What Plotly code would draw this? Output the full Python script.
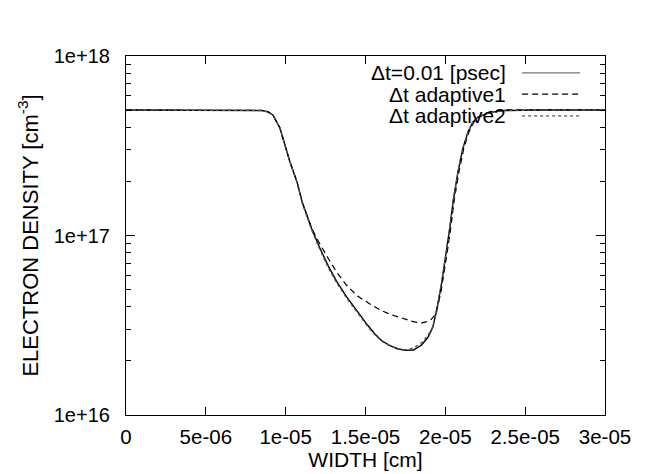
import plotly.graph_objects as go

# ---- data (x in cm, density in cm^-3) ----
x_solid = [0, 2e-06, 4e-06, 6e-06, 7.5e-06, 8.5e-06, 8.9e-06, 9.2e-06, 9.64e-06, 9.96e-06,
           1.027e-05, 1.071e-05, 1.105e-05, 1.163e-05, 1.204e-05, 1.267e-05, 1.319e-05,
           1.382e-05, 1.445e-05, 1.515e-05, 1.56e-05, 1.60e-05, 1.65e-05, 1.70e-05,
           1.75e-05, 1.80e-05, 1.85e-05, 1.89e-05, 1.922e-05, 1.946e-05, 1.977e-05,
           2.008e-05, 2.029e-05, 2.050e-05, 2.079e-05, 2.110e-05, 2.142e-05, 2.173e-05,
           2.204e-05, 2.28e-05, 2.37e-05, 2.6e-05, 3.0e-05]
y_solid = [5.0e17, 5.0e17, 5.0e17, 5.0e17, 5.0e17, 4.97e17, 4.88e17, 4.69e17, 3.97e17, 3.19e17,
           2.57e17, 1.99e17, 1.52e17, 1.09e17, 8.9e16, 6.75e16, 5.55e16,
           4.55e16, 3.80e16, 3.15e16, 2.82e16, 2.60e16, 2.44e16, 2.34e16,
           2.29e16, 2.30e16, 2.45e16, 2.70e16, 3.09e16, 3.85e16, 5.44e16,
           8.3e16, 1.12e17, 1.58e17, 2.26e17, 3.07e17, 3.77e17, 4.29e17,
           4.57e17, 4.85e17, 4.97e17, 5.0e17, 5.0e17]

x_adapt1 = [0, 2e-06, 4e-06, 6e-06, 7.5e-06, 8.5e-06, 8.9e-06, 9.2e-06, 9.64e-06, 9.96e-06,
            1.027e-05, 1.071e-05, 1.105e-05, 1.163e-05, 1.204e-05, 1.265e-05, 1.319e-05,
            1.38e-05, 1.45e-05, 1.528e-05, 1.60e-05, 1.65e-05, 1.716e-05, 1.78e-05,
            1.82e-05, 1.85e-05, 1.88e-05, 1.91e-05, 1.935e-05, 1.955e-05, 1.975e-05,
            1.99e-05, 2.014e-05, 2.035e-05, 2.056e-05, 2.085e-05, 2.116e-05, 2.148e-05,
            2.179e-05, 2.21e-05, 2.28e-05, 2.37e-05, 2.6e-05, 3.0e-05]
y_adapt1 = [5.0e17, 5.0e17, 5.0e17, 5.0e17, 5.0e17, 4.97e17, 4.88e17, 4.69e17, 3.97e17, 3.19e17,
            2.57e17, 1.99e17, 1.52e17, 1.10e17, 9.3e16, 7.5e16, 6.25e16,
            5.3e16, 4.6e16, 4.15e16, 3.82e16, 3.65e16, 3.48e16, 3.35e16,
            3.28e16, 3.26e16, 3.30e16, 3.40e16, 3.60e16, 4.1e16, 5.0e16,
            6.0e16, 8.3e16, 1.12e17, 1.58e17, 2.26e17, 3.07e17, 3.77e17,
            4.29e17, 4.57e17, 4.9e17, 5.02e17, 5.0e17, 5.0e17]

x_adapt2 = [0, 2e-06, 4e-06, 6e-06, 7.5e-06, 8.5e-06, 8.9e-06, 9.2e-06, 9.64e-06, 9.96e-06,
            1.027e-05, 1.071e-05, 1.105e-05, 1.163e-05, 1.204e-05, 1.267e-05, 1.319e-05,
            1.382e-05, 1.445e-05, 1.515e-05, 1.56e-05, 1.60e-05, 1.65e-05, 1.70e-05,
            1.75e-05, 1.80e-05, 1.86e-05, 1.914e-05, 1.946e-05, 1.977e-05, 2.008e-05,
            2.029e-05, 2.050e-05, 2.079e-05, 2.110e-05, 2.142e-05, 2.173e-05, 2.204e-05,
            2.28e-05, 2.37e-05, 2.6e-05, 3.0e-05]
y_adapt2 = [5.0e17, 5.0e17, 5.0e17, 5.0e17, 5.0e17, 4.97e17, 4.88e17, 4.69e17, 3.97e17, 3.19e17,
            2.57e17, 1.98e17, 1.50e17, 1.07e17, 8.75e16, 6.6e16, 5.45e16,
            4.47e16, 3.74e16, 3.10e16, 2.79e16, 2.58e16, 2.43e16, 2.34e16,
            2.31e16, 2.36e16, 2.56e16, 2.98e16, 3.75e16, 5.44e16, 8.3e16,
            1.12e17, 1.58e17, 2.26e17, 3.07e17, 3.77e17, 4.29e17, 4.57e17,
            4.85e17, 4.97e17, 5.0e17, 5.0e17]

series_names = ["\u0394t=0.01 [psec]", "\u0394t adaptive1", "\u0394t adaptive2"]

x_tickvals = [0, 5e-06, 1e-05, 1.5e-05, 2e-05, 2.5e-05, 3e-05]
x_ticktext = ["0", "5e-06", "1e-05", "1.5e-05", "2e-05", "2.5e-05", "3e-05"]
y_tickvals = [1e16, 1e17, 1e18]
y_ticktext = ["1e+16", "1e+17", "1e+18"]

FONT = "Liberation Sans, Arial, Helvetica, sans-serif"
FS = 21
styles = [
    dict(color="black", width=1.4, dash="solid"),
    dict(color="black", width=1.2, dash="6px,4px"),
    dict(color="#555555", width=1.3, dash="3px,3px"),
]

fig = go.Figure()
for xs, ys, nm, st in zip([x_solid, x_adapt1, x_adapt2],
                          [y_solid, y_adapt1, y_adapt2], series_names, styles):
    fig.add_trace(go.Scatter(x=xs, y=ys, mode="lines", name=nm, line=st,
                             showlegend=False))

# gnuplot-style key: text right-aligned, line sample on the right
key_rows = [0.953, 0.894, 0.833]
for nm, st, yy in zip(series_names, styles, key_rows):
    fig.add_annotation(x=0.797, y=yy, xref="paper", yref="paper", text=nm,
                       showarrow=False, xanchor="right", yanchor="middle",
                       font=dict(family=FONT, size=FS, color="black"))
    lcol = "#777777" if st["dash"] == "solid" else st["color"]
    fig.add_shape(type="line", xref="paper", yref="paper",
                  x0=0.827, x1=0.948, y0=yy, y1=yy,
                  line=dict(color=lcol, width=1.3, dash=st["dash"]))

fig.update_layout(
    width=646, height=474,
    margin=dict(l=126, r=41, t=56, b=59),
    paper_bgcolor="white", plot_bgcolor="white",
    font=dict(family=FONT, size=FS, color="black"),
    showlegend=False,
)
fig.update_xaxes(
    range=[0, 3e-05], tickvals=x_tickvals, ticktext=x_ticktext,
    ticks="inside", ticklen=8, tickcolor="black", tickwidth=1,
    showline=True, linecolor="black", linewidth=1.2, mirror="ticks",
    showgrid=False, zeroline=False, ticklabelstandoff=3,
    tickfont=dict(size=20.5),
    title=dict(text="WIDTH [cm]", standoff=0, font=dict(size=FS)),
    automargin=False,
)
fig.update_yaxes(
    type="log", range=[16, 18], tickvals=y_tickvals, ticktext=y_ticktext,
    ticks="inside", ticklen=9, tickcolor="black", tickwidth=1,
    minor=dict(ticks="inside", ticklen=5, dtick="D1", tickcolor="black", showgrid=False),
    showline=True, linecolor="black", linewidth=1.2, mirror="ticks",
    showgrid=False, zeroline=False, ticklabelstandoff=11,
    tickfont=dict(size=20),
    title=dict(text="ELECTRON DENSITY [cm<sup>-3</sup>]", standoff=9, font=dict(size=22)),
    automargin=False,
)

fig.write_html("out.html")
